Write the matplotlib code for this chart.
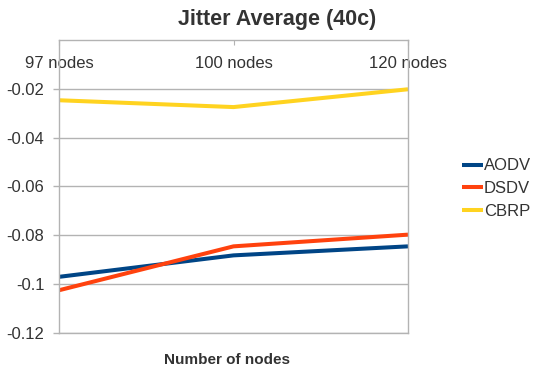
import matplotlib
matplotlib.use("Agg")
import matplotlib.pyplot as plt


# ==============================
# DATA
# ==============================

node_labels = ["97 nodes", "100 nodes", "120 nodes"]

aodv = [-0.0971, -0.0883, -0.0846]
dsdv = [-0.1026, -0.0846, -0.0798]
cbrp = [-0.0247, -0.0275, -0.0202]

y_ticks = [-0.12, -0.1, -0.08, -0.06, -0.04, -0.02]
y_tick_labels = ["-0.12", "-0.1", "-0.08", "-0.06", "-0.04", "-0.02"]


# ==============================
# STYLE
# ==============================

plt.rcParams["font.family"] = ["Liberation Sans", "DejaVu Sans"]

TEXT_COLOR = "#333333"
GRID_COLOR = "#b3b3b3"

SERIES = [
    ("AODV", aodv, "#004586"),
    ("DSDV", dsdv, "#ff420e"),
    ("CBRP", cbrp, "#ffd320"),
]


# ==============================
# PLOT
# ==============================

def plot_jitter():
    fig = plt.figure(figsize=(5.35, 3.7), dpi=100)
    ax = fig.add_axes([59 / 535, 1 - 332.7 / 370, 349 / 535, 292.7 / 370])

    x = list(range(len(node_labels)))
    for name, values, color in SERIES:
        ax.plot(x, values, color=color, linewidth=2.9, label=name,
                solid_capstyle="butt")

    ax.set_xlim(0, len(node_labels) - 1)
    ax.set_ylim(-0.12, 0)

    ax.set_yticks(y_ticks)
    ax.set_yticklabels(y_tick_labels)
    ax.yaxis.grid(True, color=GRID_COLOR, linewidth=1)
    ax.set_axisbelow(True)

    # category axis sits at y=0, labels hang just below it
    ax.set_xticks(x)
    ax.set_xticklabels(node_labels)
    ax.tick_params(axis="x", top=True, bottom=False, labeltop=True,
                   labelbottom=False, direction="in", length=3.6,
                   pad=-22, color=GRID_COLOR, labelsize=12,
                   labelcolor=TEXT_COLOR)
    ax.tick_params(axis="y", direction="out", length=4.5, width=1,
                   color=GRID_COLOR, labelsize=12, labelcolor=TEXT_COLOR,
                   pad=6)

    for spine in ax.spines.values():
        spine.set_color(GRID_COLOR)
        spine.set_linewidth(1)

    fig.text(277 / 535, 1 - 25 / 370, "Jitter Average (40c)",
             ha="center", va="baseline", fontsize=15.5,
             fontweight="bold", color=TEXT_COLOR)
    fig.text(227 / 535, 1 - 364.3 / 370, "Number of nodes",
             ha="center", va="baseline", fontsize=11,
             fontweight="bold", color=TEXT_COLOR)

    leg = ax.legend(loc="center left",
                    bbox_to_anchor=(454 / 535, 1 - 188.5 / 370),
                    bbox_transform=fig.transFigure, frameon=False,
                    handlelength=1.25, handletextpad=0.05,
                    labelspacing=0.45, borderpad=0, fontsize=12)
    for text in leg.get_texts():
        text.set_color(TEXT_COLOR)

    fig.savefig("out.png", dpi=100)


if __name__ == "__main__":
    plot_jitter()
